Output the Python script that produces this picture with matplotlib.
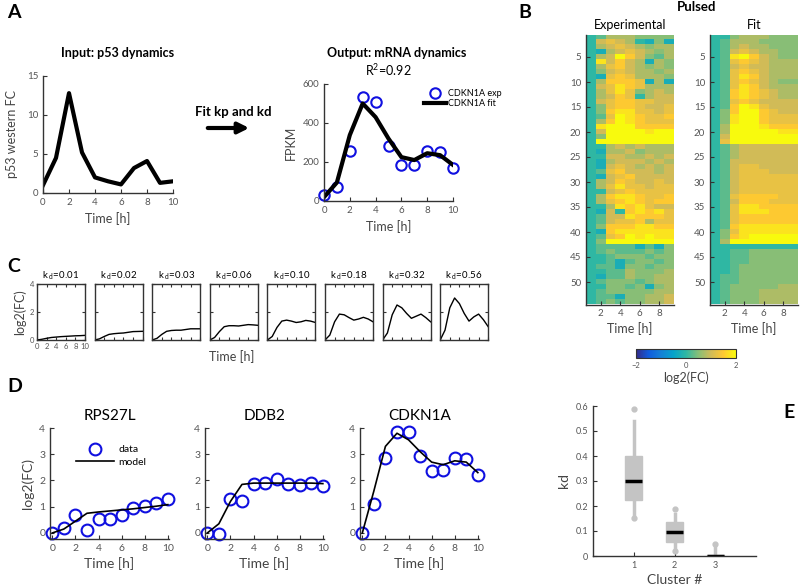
import numpy as np
import matplotlib
matplotlib.use("Agg")
import matplotlib.pyplot as plt
from matplotlib.colors import LinearSegmentedColormap
from matplotlib.patches import FancyArrowPatch

plt.rcParams['font.family'] = ['Lato', 'DejaVu Sans']
plt.rcParams['mathtext.fontset'] = 'custom'
plt.rcParams['mathtext.rm'] = 'Lato'
plt.rcParams['mathtext.it'] = 'Lato'

# ---- data ----
t = np.arange(11)
p53_fc = [1.0, 4.5, 12.8, 5.2, 2.0, 1.5, 1.1, 3.2, 4.1, 1.3, 1.5]
cdkn1a_exp = [30, 72, 256, 533, 507, 282, 185, 185, 256, 252, 168]
cdkn1a_fit = [20, 95, 338, 500, 430, 320, 225, 210, 245, 235, 185]

kd_values = ["0.01", "0.02", "0.03", "0.06", "0.10", "0.18", "0.32", "0.56"]
kd_curves = [
    [0, 0.05, 0.12, 0.18, 0.21, 0.24, 0.26, 0.28, 0.30, 0.31, 0.33],
    [0, 0.08, 0.25, 0.40, 0.45, 0.48, 0.50, 0.55, 0.60, 0.61, 0.62],
    [0, 0.12, 0.40, 0.62, 0.68, 0.70, 0.70, 0.75, 0.80, 0.80, 0.80],
    [0, 0.18, 0.60, 0.95, 1.02, 1.02, 1.00, 1.05, 1.10, 1.08, 1.05],
    [0, 0.25, 0.90, 1.35, 1.42, 1.35, 1.25, 1.30, 1.40, 1.35, 1.25],
    [0, 0.35, 1.30, 1.85, 1.80, 1.60, 1.42, 1.50, 1.62, 1.50, 1.30],
    [0, 0.50, 1.80, 2.50, 2.30, 1.90, 1.55, 1.70, 1.85, 1.60, 1.30],
    [0, 0.70, 2.30, 3.00, 2.60, 1.90, 1.35, 1.65, 1.85, 1.45, 0.95],
]

genes = ["RPS27L", "DDB2", "CDKN1A"]
gene_data = [
    [0, 0.2, 0.7, 0.13, 0.55, 0.55, 0.7, 0.95, 1.03, 1.13, 1.28],
    [0, -0.05, 1.28, 1.22, 1.85, 1.92, 2.05, 1.88, 1.82, 1.92, 1.8],
    [0, 1.1, 2.85, 3.85, 3.85, 2.95, 2.35, 2.4, 2.85, 2.8, 2.2],
]
gene_model = [
    [0, 0.15, 0.45, 0.75, 0.8, 0.84, 0.88, 0.92, 0.97, 1.02, 1.08],
    [0, 0.35, 1.2, 1.85, 1.9, 1.9, 1.9, 1.9, 1.9, 1.9, 1.88],
    [0, 1.6, 3.3, 3.8, 3.55, 3.1, 2.7, 2.6, 2.75, 2.7, 2.3],
]

# heatmap levels: index in LEVELS -> -0.5 + 0.25*index  (Y = 2.0)
LEVELS = "0123456789Y"
exp_rows = [
    "235554444", "267652141", "256765455", "215676545", "256Y86435",
    "296865154", "257865454", "246765545", "217875554", "258887151",
    "267987555", "257974565", "256872566", "267887766", "247887667",
    "248997767", "237Y98778", "258Y98777", "29YYY8888", "26YYYY9YY",
    "24YYYYYYY", "2YYYYYYYY", "225656555", "215564555", "226655656",
    "215666565", "216765656", "237866656", "216786666", "256876676",
    "257977677", "226787777", "258998778", "257898788", "225989766",
    "216289897", "236698887", "236778577", "248889988", "218999999",
    "2378Y9Y99", "24YYYYYYY", "233331314", "234333434", "223444344",
    "223134434", "233144344", "223354445", "213354455", "234443455",
    "224434145", "234444455", "233144556", "234344556",
]
fit_rows = [
    "224555444", "235554444", "235655444", "236765544", "239Y86544",
    "237876555", "236766555", "237876555", "237986555", "237876544",
    "237986555", "238987655", "238987655", "237876666", "238Y97666",
    "248YY8766", "249YY8777", "249YY8777", "25YYY9888", "25YYYYY99",
    "26YYYYYYY", "27YYYYYYY", "235666666", "235666666", "235666666",
    "236666666", "236776666", "236777666", "236777777", "236777777",
    "236777777", "236777777", "237888877", "236888777", "237998888",
    "237999888", "237888888", "237888888", "238999999", "247999999",
    "2489YYYYY", "25YYYYYYY", "222222222", "223344444", "223344444",
    "223344444", "223444444", "223444444", "233444444", "233444444",
    "234444455", "234445555", "234445555", "234445555",
]

clusters = [1, 2, 3]
kd_med = [0.30, 0.095, 0.002]
kd_q1 = [0.225, 0.057, 0.0]
kd_q3 = [0.40, 0.136, 0.004]
kd_lo = [0.17, 0.03, 0.0]
kd_hi = [0.54, 0.17, 0.035]
kd_out = [[0.59, 0.153], [0.188, 0.02], [0.05]]

# ---- style helpers ----
W, H = 800, 587
SPINE = '#333333'
TXT = '#555555'
BLUE = '#1010e0'

parula = LinearSegmentedColormap.from_list('parula', [
    (0.2081, 0.1663, 0.5292), (0.0592, 0.3599, 0.8684), (0.0780, 0.5041, 0.8385),
    (0.0232, 0.6419, 0.7914), (0.1802, 0.7178, 0.6425), (0.5301, 0.7492, 0.4662),
    (0.8186, 0.7328, 0.3464), (0.9956, 0.7862, 0.1968), (0.9763, 0.9831, 0.0538)])


def px(l, t_, r, b):
    return [l / W, 1 - b / H, (r - l) / W, (b - t_) / H]


def fx(x):
    return x / W


def fy(y):
    return 1 - y / H


def matlab_axes(ax, box=False, fs=7):
    for s in ['top', 'right']:
        ax.spines[s].set_visible(box)
    for s in ax.spines.values():
        s.set_color(SPINE)
        s.set_linewidth(1.0)
    ax.tick_params(direction='in', length=3, width=0.8, colors=SPINE,
                   labelcolor=TXT, labelsize=fs, top=box, right=box)


def levels(rows):
    return np.array([[-0.5 + 0.25 * LEVELS.index(c) for c in r] for r in rows])


fig = plt.figure(figsize=(8, 5.87), dpi=100)

# ---- panel letters ----
for letter, x, y in [("A", 7, 13), ("B", 518, 13), ("C", 7, 267), ("D", 7, 387), ("E", 783, 413)]:
    fig.text(fx(x), fy(y), letter, fontsize=14, fontweight='bold', ha='left', va='center')

# ---- panel A ----
axa = fig.add_axes(px(43, 76, 173, 193))
axa.plot(t, p53_fc, color='black', lw=3)
axa.set_xlim(0, 10)
axa.set_ylim(0, 15)
axa.set_xticks(range(0, 11, 2))
axa.set_yticks([0, 5, 10, 15])
matlab_axes(axa)
axa.set_xlabel("Time [h]", fontsize=9, color='#444444')
axa.set_ylabel("p53 western FC", fontsize=9, color='#444444', labelpad=6)
fig.text(fx(118), fy(53), "Input: p53 dynamics", fontsize=9, fontweight='bold', ha='center', va='center')

fig.text(fx(233), fy(112), "Fit kp and kd", fontsize=9.5, fontweight='bold', ha='center', va='center')
fig.add_artist(FancyArrowPatch((fx(205), fy(128)), (fx(252), fy(128)), transform=fig.transFigure,
                               arrowstyle='-|>', mutation_scale=16, lw=3, color='black'))

axr = fig.add_axes(px(324, 84, 453, 201))
axr.plot(t, cdkn1a_exp, 'o', ms=7.5, mfc='none', mec=BLUE, mew=1.5, label="CDKN1A exp", clip_on=False)
axr.plot(t, cdkn1a_fit, color='black', lw=3, label="CDKN1A fit")
axr.set_xlim(0, 10)
axr.set_ylim(0, 600)
axr.set_xticks(range(0, 11, 2))
axr.set_yticks([0, 200, 400, 600])
matlab_axes(axr)
axr.set_xlabel("Time [h]", fontsize=9, color='#444444')
axr.set_ylabel("FPKM", fontsize=9, color='#444444', labelpad=4)
axr.text(0.5, 1.05, r"R$^2$=0.92", transform=axr.transAxes, fontsize=9, ha='center', va='bottom')
fig.text(fx(397), fy(53), "Output: mRNA dynamics", fontsize=9, fontweight='bold', ha='center', va='center')
axr.legend(loc='upper left', bbox_to_anchor=(fx(424), fy(89)), bbox_transform=fig.transFigure,
           frameon=False, fontsize=6.5, handlelength=2.4, borderpad=0, labelspacing=0.15,
           handletextpad=0.3, borderaxespad=0)

# ---- panel B ----
fig.text(fx(697), fy(7), "Pulsed", fontsize=9.5, fontweight='bold', ha='center', va='center')
for rows, l, title in [(exp_rows, 586, "Experimental"), (fit_rows, 710, "Fit")]:
    axh = fig.add_axes(px(l, 34.5, l + 88, 304.5))
    im = axh.imshow(levels(rows), cmap=parula, vmin=-2, vmax=2, aspect='auto',
                    interpolation='nearest', extent=(0.5, 9.5, 54.5, 0.5))
    axh.set_xticks([2, 4, 6, 8])
    axh.set_yticks(range(5, 55, 5))
    matlab_axes(axh, fs=7)
    axh.spines['top'].set_visible(False)
    axh.spines['right'].set_visible(False)
    axh.set_xlabel("Time [h]", fontsize=9, color='#444444', labelpad=3)
    axh.set_title(title, fontsize=9, pad=4)

cax = fig.add_axes(px(636, 349, 736, 358))
cb = fig.colorbar(im, cax=cax, orientation='horizontal', ticks=[-2, 0, 2])
cb.outline.set_color(SPINE)
cax.tick_params(labelsize=5.5, labelcolor=TXT, length=0, pad=3)
cb.set_label("log2(FC)", fontsize=9, color='#444444', labelpad=2)

# ---- panel C ----
for i, (kd, curve) in enumerate(zip(kd_values, kd_curves)):
    l = 37 + i * 57.6
    axc = fig.add_axes(px(l, 284, l + 48, 340))
    axc.plot(t, curve, color='black', lw=1)
    axc.set_xlim(0, 10)
    axc.set_ylim(0, 4)
    axc.set_xticks(range(0, 11, 2))
    axc.set_yticks([0, 2, 4])
    matlab_axes(axc, box=True, fs=5.5)
    axc.tick_params(length=2, pad=2)
    if i > 0:
        axc.set_xticklabels([])
        axc.set_yticklabels([])
    else:
        axc.set_ylabel("log2(FC)", fontsize=9, color='#444444', labelpad=3)
    axc.set_title(r"k$_{\mathrm{\ d}}$=" + kd, fontsize=7, pad=4)
fig.text(fx(232), fy(357), "Time [h]", fontsize=9, color='#444444', ha='center', va='center')

# ---- panel D ----
for i, (g, d, m) in enumerate(zip(genes, gene_data, gene_model)):
    l = 52 + i * 155
    axd = fig.add_axes(px(l - 2, 428, l + 117, 539))
    axd.plot(t, d, 'o', ms=8.5, mfc='none', mec=BLUE, mew=1.5, label="data", clip_on=False)
    axd.plot(t, m, color='black', lw=1.2, label="model")
    axd.set_xlim(-0.2, 10.1)
    axd.set_ylim(-0.23, 4.0)
    axd.set_xticks(range(0, 11, 2))
    axd.set_yticks(range(0, 5))
    matlab_axes(axd, fs=7.5)
    axd.set_xlabel("Time [h]", fontsize=10, color='#444444', labelpad=3)
    axd.set_title(g, fontsize=11, pad=6)
    if i == 0:
        axd.set_ylabel("log2(FC)", fontsize=10, color='#444444', labelpad=4)
        axd.legend(loc='upper left', bbox_to_anchor=(fx(76), fy(445)), bbox_transform=fig.transFigure,
                   frameon=False, fontsize=7.5, handlelength=3.6, borderpad=0, labelspacing=0.3,
                   handletextpad=0.5, borderaxespad=0)

# ---- panel E ----
axe = fig.add_axes(px(593, 406, 756, 556))
stats = [dict(med=kd_med[k], q1=kd_q1[k], q3=kd_q3[k], whislo=kd_lo[k], whishi=kd_hi[k],
              fliers=kd_out[k]) for k in range(3)]
axe.bxp(stats, positions=clusters, widths=0.42, patch_artist=True, showcaps=False,
        boxprops=dict(facecolor='#c4c4c4', edgecolor='#c4c4c4'),
        whiskerprops=dict(color='#c4c4c4', lw=2.5),
        medianprops=dict(color='black', lw=2.5),
        flierprops=dict(marker='o', ms=3.5, mfc='#c4c4c4', mec='#c4c4c4'))
axe.set_xlim(0, 4)
axe.set_ylim(0, 0.6)
axe.set_xticks(clusters)
axe.set_xticklabels([str(c) for c in clusters])
axe.set_yticks(np.arange(0, 0.61, 0.1))
axe.set_yticklabels(["0", "0.1", "0.2", "0.3", "0.4", "0.5", "0.6"])
matlab_axes(axe, fs=6.5)
axe.set_xlabel("Cluster #", fontsize=10, color='#444444', labelpad=3)
axe.set_ylabel("kd", fontsize=10, color='#444444', labelpad=4)

fig.savefig("out.png", dpi=100)
